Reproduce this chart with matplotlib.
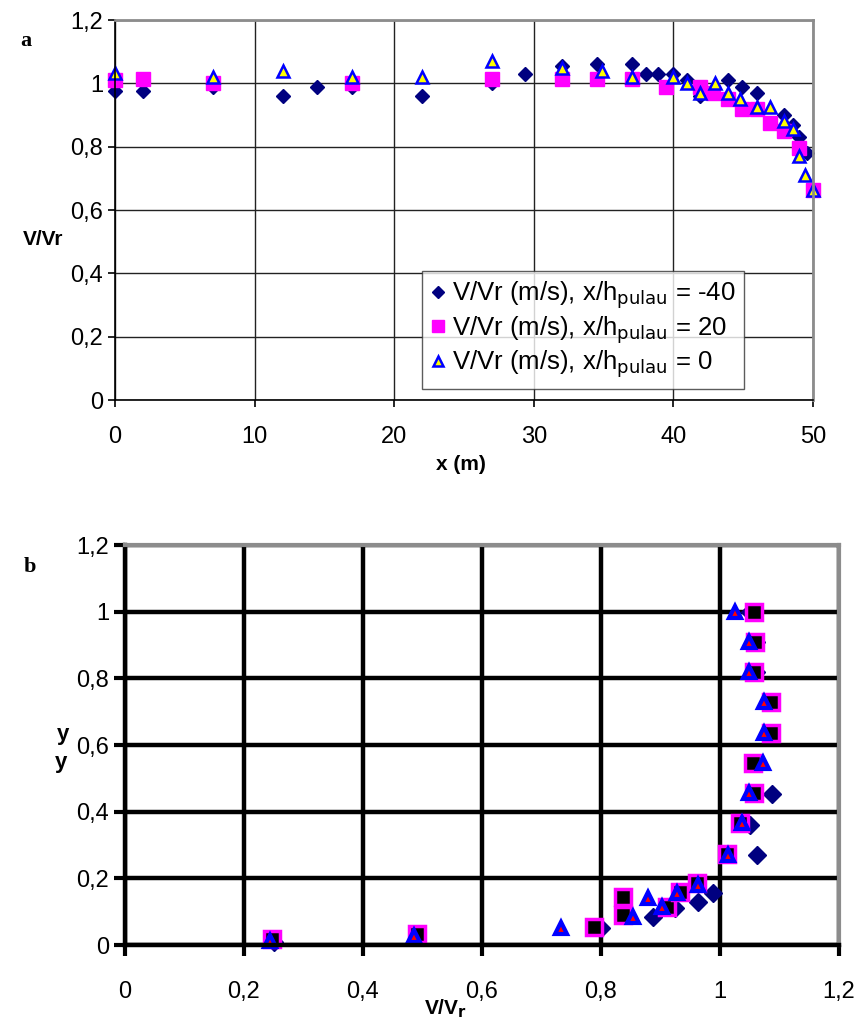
import matplotlib.pyplot as plt
from matplotlib.ticker import FuncFormatter, MultipleLocator

plt.rcParams['font.family'] = ['Liberation Sans', 'DejaVu Sans']

# --- chart a: V/Vr along x ---
a_x_m40 = [0, 2, 7, 12, 14.5, 17, 22, 27, 29.4, 32, 34.5, 37, 38, 38.9, 40, 41, 41.9,
           43.9, 44.9, 46, 47.9, 48.6, 49, 49.6]
a_v_m40 = [0.975, 0.975, 0.99, 0.96, 0.99, 0.99, 0.96, 1.0, 1.03, 1.055, 1.06, 1.06, 1.03,
           1.03, 1.03, 1.01, 0.96, 1.01, 0.99, 0.97, 0.90, 0.87, 0.83, 0.78]
a_x_20 = [0, 2, 7, 17, 27, 32, 34.5, 37, 39.5, 41.9, 42.8, 43.9, 44.9, 46, 46.9, 47.9, 49, 50]
a_v_20 = [1.01, 1.014, 1.0, 1.0, 1.014, 1.014, 1.014, 1.014, 0.99, 0.99, 0.97, 0.95, 0.92,
          0.92, 0.875, 0.85, 0.795, 0.663]
a_x_0 = [0, 7, 12, 17, 22, 27, 32, 34.9, 37, 40, 41, 41.9, 43, 43.9, 44.8, 46, 46.9, 47.9,
         48.6, 49, 49.4, 50]
a_v_0 = [1.034, 1.02, 1.04, 1.02, 1.02, 1.07, 1.05, 1.04, 1.02, 1.02, 1.0, 0.97, 1.0, 0.97,
         0.95, 0.925, 0.925, 0.88, 0.855, 0.77, 0.71, 0.663]

# --- chart b: y profile of V/Vr ---
b_v_d = [0.25, 0.49, 0.80, 0.888, 0.924, 0.963, 0.988, 1.062, 1.05, 1.087, 1.06, 1.08, 1.08,
         1.06, 1.06, 1.05]
b_y_d = [0.01, 0.03, 0.05, 0.085, 0.11, 0.13, 0.155, 0.27, 0.36, 0.453, 0.545, 0.635, 0.728,
         0.818, 0.909, 1.0]
b_v_s = [0.247, 0.49, 0.789, 0.837, 0.837, 0.911, 0.933, 0.961, 1.011, 1.034, 1.057, 1.056,
         1.086, 1.086, 1.057, 1.059, 1.057]
b_y_s = [0.018, 0.033, 0.054, 0.09, 0.144, 0.114, 0.159, 0.186, 0.273, 0.366, 0.455, 0.545,
         0.635, 0.728, 0.818, 0.909, 0.998]
b_v_t = [0.244, 0.486, 0.732, 0.854, 0.879, 0.903, 0.928, 0.963, 1.013, 1.037, 1.049, 1.073,
         1.074, 1.074, 1.049, 1.049, 1.025]
b_y_t = [0.012, 0.027, 0.05, 0.085, 0.14, 0.115, 0.155, 0.18, 0.27, 0.366, 0.455, 0.545,
         0.635, 0.728, 0.818, 0.909, 1.0]

comma = FuncFormatter(lambda v, p: f"{v:g}".replace('.', ','))

fig = plt.figure(figsize=(8.62, 10.21), dpi=100)

# chart a
ax1 = fig.add_axes([0.1334, 0.6082, 0.8098, 0.3722])
ax1.plot(a_x_m40, a_v_m40, 'D', color='#000080', ms=7.5, ls='none',
         label='V/Vr (m/s), x/h$_{\\mathrm{pulau}}$ = -40')
ax1.plot(a_x_20, a_v_20, 's', color='#ff00ff', ms=10, ls='none',
         label='V/Vr (m/s), x/h$_{\\mathrm{pulau}}$ = 20')
ax1.plot(a_x_0, a_v_0, '^', mfc='#ffff00', mec='#0000ff', mew=1.8, ms=9, ls='none',
         label='V/Vr (m/s), x/h$_{\\mathrm{pulau}}$ = 0')
ax1.set_xlim(0, 50)
ax1.set_ylim(0, 1.2)
ax1.xaxis.set_major_locator(MultipleLocator(10))
ax1.yaxis.set_major_locator(MultipleLocator(0.2))
ax1.yaxis.set_major_formatter(comma)
ax1.grid(True, color='#222222', lw=1)
ax1.set_axisbelow(True)
ax1.tick_params(labelsize=17, direction='out', length=5, width=1.2)
ax1.tick_params(axis='x', pad=14)
for s in ['left', 'bottom']:
    ax1.spines[s].set_color('black')
    ax1.spines[s].set_linewidth(1.2)
for s in ['top', 'right']:
    ax1.spines[s].set_color('#8c8c8c')
    ax1.spines[s].set_linewidth(2)
for ln in ax1.lines:
    ln.set_clip_on(False)
leg = ax1.legend(loc='lower left', bbox_to_anchor=(0.44, 0.029), fontsize=18.5, frameon=True,
                 fancybox=False, edgecolor='#333333', handlelength=0.5, handletextpad=0.3,
                 borderpad=0.35, labelspacing=0.12, borderaxespad=0, markerscale=0.8)
leg.get_frame().set_linewidth(1)
fig.text(0.05, 0.765, 'V/Vr', fontsize=15, fontweight='bold', ha='center', va='center')
fig.text(0.535, 0.545, 'x (m)', fontsize=15, fontweight='bold', ha='center', va='center')
fig.text(0.03, 0.96, 'a', fontsize=16, fontweight='bold', family='Liberation Serif',
         ha='center', va='center')

# chart b
ax2 = fig.add_axes([0.145, 0.0744, 0.8283, 0.3918])
ax2.plot(b_v_d, b_y_d, 'D', color='#000080', ms=9, ls='none')
ax2.plot(b_v_s, b_y_s, 's', mfc='black', mec='#ff00ff', mew=2.5, ms=11, ls='none')
ax2.plot(b_v_t, b_y_t, '^', mfc='#ff0000', mec='#0000ff', mew=3, ms=9, ls='none')
ax2.set_xlim(0, 1.2)
ax2.set_ylim(0, 1.2)
ax2.xaxis.set_major_locator(MultipleLocator(0.2))
ax2.yaxis.set_major_locator(MultipleLocator(0.2))
ax2.xaxis.set_major_formatter(comma)
ax2.yaxis.set_major_formatter(comma)
ax2.grid(True, color='black', lw=3.2)
ax2.set_axisbelow(True)
ax2.tick_params(labelsize=17, direction='out', length=8, width=3)
ax2.tick_params(axis='x', pad=18)
for s in ['left', 'bottom']:
    ax2.spines[s].set_color('black')
    ax2.spines[s].set_linewidth(3.2)
for s in ['top', 'right']:
    ax2.spines[s].set_color('#8c8c8c')
    ax2.spines[s].set_linewidth(3)
for ln in ax2.lines:
    ln.set_clip_on(False)
fig.text(0.073, 0.281, 'y', fontsize=16, fontweight='bold', ha='center', va='center')
fig.text(0.071, 0.253, 'y', fontsize=16, fontweight='bold', ha='center', va='center')
fig.text(0.517, 0.012, 'V/V$_{\\mathbf{r}}$', fontsize=15, fontweight='bold',
         ha='center', va='center')
fig.text(0.035, 0.445, 'b', fontsize=16, fontweight='bold', family='Liberation Serif',
         ha='center', va='center')

fig.savefig('out.png', dpi=100)
